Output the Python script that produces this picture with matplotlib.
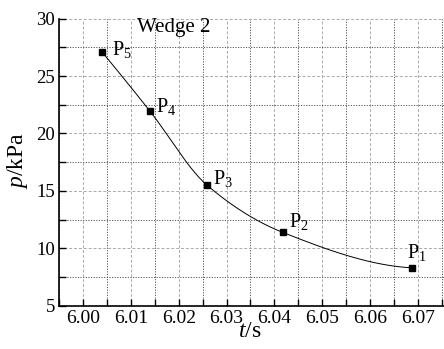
import numpy as np
import matplotlib
matplotlib.use("Agg")
import matplotlib.pyplot as plt
from matplotlib.ticker import MultipleLocator, FormatStrFormatter

# data
labels = ["1", "2", "3", "4", "5"]
t_vals = [6.0687, 6.0418, 6.0259, 6.0139, 6.0039]
p_vals = [8.30, 11.38, 15.50, 21.98, 27.12]
title_text = "Wedge 2"

plt.rcParams['font.family'] = ['Liberation Serif', 'DejaVu Serif']
plt.rcParams['mathtext.fontset'] = 'custom'
plt.rcParams['mathtext.rm'] = 'Liberation Serif'
plt.rcParams['mathtext.it'] = 'Liberation Serif:italic'

fig = plt.figure(figsize=(4.44, 3.49), dpi=100)
ax = fig.add_axes([0.1336, 0.124, 0.8664, 0.8226])


def pchip(x, y, xs):
    x = np.asarray(x, float); y = np.asarray(y, float)
    h = np.diff(x); d = np.diff(y) / h
    n = len(x)
    m = np.zeros(n)
    for i in range(1, n - 1):
        if d[i - 1] * d[i] > 0:
            w1 = 2 * h[i] + h[i - 1]; w2 = h[i] + 2 * h[i - 1]
            m[i] = (w1 + w2) / (w1 / d[i - 1] + w2 / d[i])
    def endslope(h0, h1, d0, d1):
        s = ((2 * h0 + h1) * d0 - h0 * d1) / (h0 + h1)
        if np.sign(s) != np.sign(d0):
            s = 0.0
        elif np.sign(d0) != np.sign(d1) and abs(s) > abs(3 * d0):
            s = 3 * d0
        return s
    m[0] = endslope(h[0], h[1], d[0], d[1])
    m[-1] = endslope(h[-1], h[-2], d[-1], d[-2])
    out = np.empty_like(xs)
    for k, xv in enumerate(xs):
        i = min(max(np.searchsorted(x, xv) - 1, 0), n - 2)
        tt = (xv - x[i]) / h[i]
        h00 = 2 * tt**3 - 3 * tt**2 + 1
        h10 = tt**3 - 2 * tt**2 + tt
        h01 = -2 * tt**3 + 3 * tt**2
        h11 = tt**3 - tt**2
        out[k] = h00 * y[i] + h10 * h[i] * m[i] + h01 * y[i + 1] + h11 * h[i] * m[i + 1]
    return out


order = np.argsort(t_vals)
xs_sorted = np.array(t_vals)[order]
ys_sorted = np.array(p_vals)[order]
xx = np.linspace(xs_sorted[0], xs_sorted[-1], 400)
ax.plot(xx, pchip(xs_sorted, ys_sorted, xx), color='black', lw=0.7, zorder=3)
ax.plot(t_vals, p_vals, 's', color='black', ms=5, zorder=4)

# label offsets in points
offsets = [(-3, 7.3), (4.5, 4), (4.5, 0.7), (4.8, -0.7), (7, -2.4)]
for lab, t, p, off in zip(labels, t_vals, p_vals, offsets):
    ax.annotate(r'$\mathrm{P}_{%s}$' % lab, (t, p), xytext=off,
                textcoords='offset points', ha='left', va='baseline', fontsize=14.5)

ax.text(6.019, 29.25, title_text, ha='center', va='center', fontsize=15)

ax.set_xlim(5.995, 6.0755)
ax.set_ylim(5, 30)
ax.xaxis.set_major_locator(MultipleLocator(0.01))
ax.xaxis.set_minor_locator(MultipleLocator(0.005))
ax.xaxis.set_major_formatter(FormatStrFormatter('%.2f'))
ax.yaxis.set_major_locator(MultipleLocator(5))
ax.yaxis.set_minor_locator(MultipleLocator(2.5))

ax.tick_params(which='both', direction='in', width=1)
ax.tick_params(which='major', length=5)
ax.tick_params(which='minor', length=5)
ax.tick_params(axis='x', labelsize=14, pad=3)
ax.tick_params(axis='y', labelsize=13.5, pad=3)

ax.grid(True, which='major', color='#aaaaaa', ls=(0, (3, 2)), lw=0.7)
ax.grid(True, which='minor', color='#555555', ls=(0, (1.2, 1.5)), lw=0.7)
for s in ['top', 'right']:
    ax.spines[s].set_visible(False)
for s in ['left', 'bottom']:
    ax.spines[s].set_linewidth(1.2)

ax.set_xlabel(r'$\mathit{t}$/s', fontsize=17, va='center')
ax.set_ylabel(r'$\mathit{p}$/kPa', fontsize=17, va='center')
ax.xaxis.set_label_coords(0.496, -0.09)
ax.yaxis.set_label_coords(-0.108, 0.505)

fig.savefig('out.png', dpi=100)
